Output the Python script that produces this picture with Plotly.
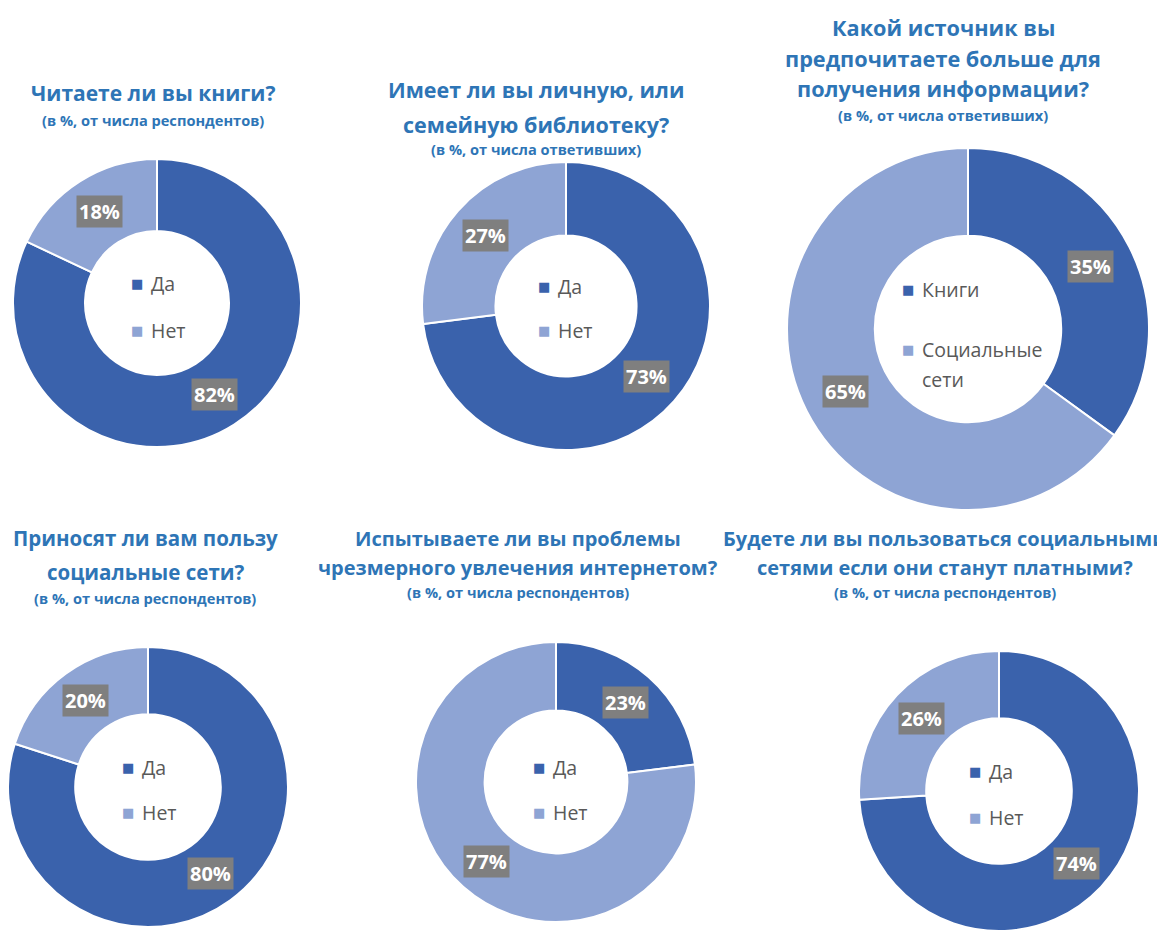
import math
import plotly.graph_objects as go

W, H = 1165, 931
OFF = 8  # page body margin of the html wrapper

DARK = "#3A62AC"
LIGHT = "#8EA4D4"
TITLE_COLOR = "#2E75B6"

# ---- data ----
labels_yn = ["Да", "Нет"]
labels_src = ["Книги", "Социальные<br>сети"]

values_books = [82, 18]
values_library = [73, 27]
values_source = [35, 65]
values_useful = [80, 20]
values_internet = [23, 77]
values_paid = [74, 26]

titles = [
    "Читаете ли вы книги?",
    "Имеет ли вы личную, или<br>семейную библиотеку?",
    "Какой источник вы<br>предпочитаете больше для<br>получения информации?",
    "Приносят ли вам пользу<br>социальные сети?",
    "Испытываете ли вы проблемы<br>чрезмерного увлечения интернетом?",
    "Будете ли вы пользоваться социальными<br>сетями если они станут платными?",
]
subtitles = [
    "(в %, от числа респондентов)",
    "(в %, от числа ответивших)",
    "(в %, от числа ответивших)",
    "(в %, от числа респондентов)",
    "(в %, от числа респондентов)",
    "(в %, от числа респондентов)",
]

charts = [
    (labels_yn, values_books),
    (labels_yn, values_library),
    (labels_src, values_source),
    (labels_yn, values_useful),
    (labels_yn, values_internet),
    (labels_yn, values_paid),
]

# ---- layout (pixel geometry) ----
# center x, center y, radius, hole fraction
geom = [
    (157, 303, 144, 0.50),
    (566, 306, 144, 0.49),
    (968, 329, 181, 0.515),
    (148, 787, 140, 0.52),
    (556, 782, 140, 0.51),
    (999, 791, 140, 0.52),
]
# title block: center x, title line centers, subtitle y, title font size
title_pos = [
    (153, [93], 120, 21),
    (536, [89, 124], 149, 21.5),
    (943, [27, 58, 88], 115, 21.7),
    (145, [538, 572], 598, 20.5),
    (518, [538, 567], 592, 20),
    (945, [538, 567], 592, 20),
]
# legend: marker center x, first item y, item gap
legend_pos = [
    (136.5, 283, 47),
    (544, 286, 45),
    (908, 289, 61),
    (128, 767, 45),
    (539, 767, 45),
    (975, 771, 46),
]


def px(x):
    return (x - OFF) / W


def py(y):
    return 1 - (y - OFF) / H


fig = go.Figure()
annotations = []


def text_ann(x, y, text, size, color, xanchor="center", family="Open Sans", **kw):
    annotations.append(dict(
        x=px(x), y=py(y), xref="paper", yref="paper", showarrow=False,
        xanchor=xanchor, yanchor="middle", align="left" if xanchor == "left" else "center",
        text=text, font=dict(family=family, size=size, color=color), **kw,
    ))


for i, ((labels, values), (cx, cy, r, hole)) in enumerate(zip(charts, geom)):
    fig.add_trace(go.Pie(
        labels=labels,
        values=values,
        hole=hole,
        sort=False,
        direction="clockwise",
        rotation=0,
        marker=dict(colors=[DARK, LIGHT], line=dict(color="white", width=2)),
        textinfo="none",
        hoverinfo="label+percent",
        showlegend=False,
        domain=dict(x=[px(cx - r), px(cx + r)], y=[py(cy + r), py(cy - r)]),
    ))

    # value labels in gray boxes at slice mid-angle, mid-ring
    total = sum(values)
    cum = 0
    rm = r * (1 + hole) / 2
    for v in values:
        a = math.radians((cum + v / 2) / total * 360)
        cum += v
        text_ann(cx + math.sin(a) * rm, cy - math.cos(a) * rm,
                 f"<b>{round(v / total * 100)}%</b>", 20, "white",
                 bgcolor="#7F7F7F", borderpad=2)

    # legend inside hole
    mx, ly, gap = legend_pos[i]
    yy = ly
    for lab, col in zip(labels, [DARK, LIGHT]):
        text_ann(mx, yy, "■", 13, col, family="DejaVu Sans")
        for k, line in enumerate(lab.split("<br>")):
            text_ann(mx + 12, yy + k * 29, line, 19.5, "#595959", xanchor="left")
        yy += gap

    # titles
    tx, lines_y, sy, tsize = title_pos[i]
    for line, ly_ in zip(titles[i].split("<br>"), lines_y):
        text_ann(tx, ly_, "<b>" + line + "</b>", tsize, TITLE_COLOR)
    text_ann(tx, sy, "<b>" + subtitles[i] + "</b>", 14.6, TITLE_COLOR)

fig.update_layout(
    width=W, height=H,
    margin=dict(l=0, r=0, t=0, b=0),
    paper_bgcolor="white", plot_bgcolor="white",
    annotations=annotations,
)

fig.write_html("out.html")
